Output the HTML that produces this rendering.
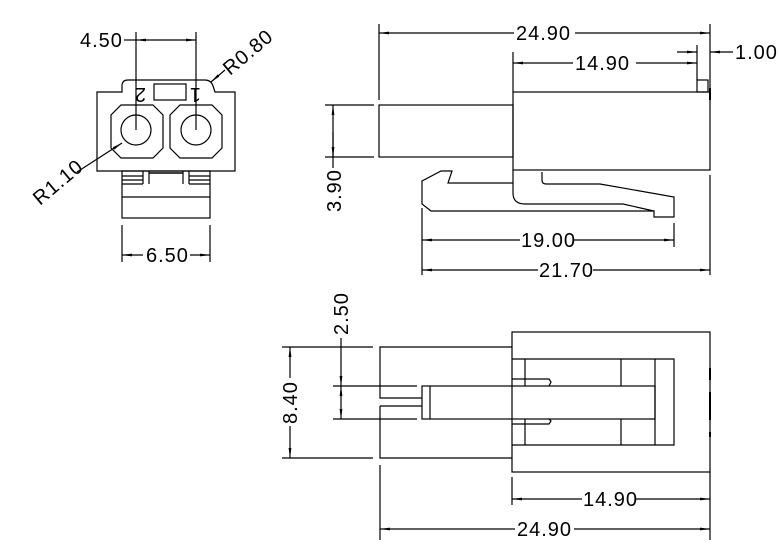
<!DOCTYPE html>
<html><head><meta charset="utf-8"><style>
html,body{margin:0;padding:0;background:#fff;}
svg{display:block;}
text{font-family:"Liberation Sans",sans-serif;font-size:20px;letter-spacing:1px;fill:#000;}
</style></head><body>
<svg width="779" height="548" viewBox="0 0 779 548" xmlns="http://www.w3.org/2000/svg">
<defs>
<marker id="a" viewBox="0 0 10 4" refX="10" refY="2" markerWidth="10" markerHeight="4" markerUnits="userSpaceOnUse" orient="auto-start-reverse">
<path d="M0,0.6 L10,2 L0,3.4 Z" fill="#000"/></marker>
</defs>
<g fill="none" stroke="#000" stroke-width="1.2">
<!-- LEFT VIEW -->
<path d="M97,92 H122 V86 Q122,80 128,80 H205 Q211,80 213,86 L215,92 H235 V171 H97 Z"/>
<rect x="154" y="84" width="32" height="16"/>
<path d="M121,105 H153 L163,115 V148 L153,158 H121 L111,148 V115 Z"/>
<path d="M180,105 H212 L222,115 V148 L212,158 H180 L170,148 V115 Z"/>
<circle cx="136" cy="130" r="15"/>
<circle cx="196" cy="130" r="15"/>
<line x1="136" y1="32" x2="136" y2="130"/>
<line x1="196" y1="32" x2="196" y2="130"/>
<line x1="136" y1="40" x2="196" y2="40" marker-start="url(#a)" marker-end="url(#a)"/>
<line x1="124" y1="40" x2="136" y2="40"/>
<line x1="77" y1="172" x2="122" y2="143" marker-end="url(#a)"/>
<line x1="225" y1="70" x2="211" y2="82" marker-end="url(#a)"/>
<rect x="122" y="171" width="88" height="47"/>
<line x1="122" y1="197" x2="210" y2="197"/>
<line x1="122" y1="176" x2="143" y2="176"/><line x1="122" y1="180" x2="143" y2="180"/><line x1="122" y1="184" x2="143" y2="184"/>
<line x1="189" y1="176" x2="210" y2="176"/><line x1="189" y1="180" x2="210" y2="180"/><line x1="189" y1="184" x2="210" y2="184"/>
<line x1="143" y1="171" x2="143" y2="184"/><line x1="149" y1="171" x2="149" y2="184"/>
<line x1="183" y1="171" x2="183" y2="184"/><line x1="189" y1="171" x2="189" y2="184"/>
<line x1="149" y1="173" x2="183" y2="173" stroke-width="1.6"/>
<line x1="122" y1="225" x2="122" y2="262"/><line x1="210" y1="225" x2="210" y2="262"/>
<line x1="122" y1="255" x2="143" y2="255" marker-start="url(#a)"/>
<line x1="190" y1="255" x2="210" y2="255" marker-end="url(#a)"/>

<!-- TOP RIGHT VIEW -->
<line x1="379" y1="24" x2="379" y2="100"/>
<line x1="710" y1="24" x2="710" y2="95"/>
<line x1="379" y1="33" x2="514" y2="33" marker-start="url(#a)"/>
<line x1="575" y1="33" x2="710" y2="33" marker-end="url(#a)"/>
<line x1="513" y1="52" x2="513" y2="92"/>
<line x1="697" y1="45" x2="697" y2="80"/>
<line x1="513" y1="63" x2="573" y2="63" marker-start="url(#a)"/>
<line x1="636" y1="63" x2="697" y2="63" marker-end="url(#a)"/>
<line x1="677" y1="52" x2="697" y2="52" marker-end="url(#a)"/>
<line x1="733" y1="52" x2="710" y2="52" marker-end="url(#a)"/>
<rect x="697" y="80" width="11" height="12"/>
<line x1="710" y1="88" x2="710" y2="100" stroke-width="2"/>
<rect x="513" y="92" width="197" height="78"/>
<rect x="379" y="105" width="134" height="52"/>
<line x1="325" y1="105" x2="374" y2="105"/><line x1="325" y1="157" x2="374" y2="157"/>
<line x1="333" y1="105" x2="333" y2="168" marker-start="url(#a)"/>
<line x1="333" y1="132" x2="333" y2="157" marker-end="url(#a)"/>
<path d="M513,183 H448 L452,171 H441 L422,181 V204 L431,211 H654 V217 H674 V197 L600,184 H546 Q542,184 542,180 V172"/>
<path d="M513,170 V193 Q513,204 525,204 H623 L654,211"/>
<line x1="422" y1="208" x2="422" y2="275"/>
<line x1="674" y1="223" x2="674" y2="247"/>
<line x1="710" y1="175" x2="710" y2="275"/>
<line x1="422" y1="240" x2="520" y2="240" marker-start="url(#a)"/>
<line x1="574" y1="240" x2="674" y2="240" marker-end="url(#a)"/>
<line x1="422" y1="270" x2="538" y2="270" marker-start="url(#a)"/>
<line x1="593" y1="270" x2="710" y2="270" marker-end="url(#a)"/>

<!-- BOTTOM VIEW -->
<rect x="512" y="332" width="198" height="140"/>
<path d="M512,347 H380 V398 H422 M380,406 V458 H512 M380,406 H422"/>
<rect x="422" y="386" width="233" height="33"/>
<line x1="430" y1="386" x2="430" y2="419"/>
<path d="M512,359 H674 V445 H512"/>
<line x1="525" y1="359" x2="525" y2="386"/><line x1="621" y1="359" x2="621" y2="386"/>
<line x1="525" y1="419" x2="525" y2="445"/><line x1="621" y1="419" x2="621" y2="445"/>
<line x1="655" y1="359" x2="655" y2="445"/>
<path d="M512,379 H549 L551,382 L549,386"/>
<path d="M512,424 H549 L551,421 L549,419"/>
<line x1="710" y1="368" x2="710" y2="380" stroke-width="2"/>
<line x1="710" y1="392" x2="710" y2="420" stroke-width="2"/>
<line x1="710" y1="432" x2="710" y2="437" stroke-width="2"/>
<line x1="282" y1="347" x2="373" y2="347"/><line x1="282" y1="458" x2="373" y2="458"/>
<line x1="290" y1="347" x2="290" y2="378" marker-start="url(#a)"/>
<line x1="290" y1="426" x2="290" y2="458" marker-end="url(#a)"/>
<line x1="333" y1="386" x2="417" y2="386"/><line x1="333" y1="419" x2="417" y2="419"/>
<line x1="341" y1="338" x2="341" y2="386" marker-end="url(#a)"/>
<line x1="341" y1="403" x2="341" y2="386" marker-end="url(#a)"/>
<line x1="341" y1="403" x2="341" y2="419" marker-end="url(#a)"/>
<line x1="512" y1="477" x2="512" y2="505"/>
<line x1="710" y1="472" x2="710" y2="540"/>
<line x1="380" y1="465" x2="380" y2="540"/>
<line x1="512" y1="499" x2="582" y2="499" marker-start="url(#a)"/>
<line x1="636" y1="499" x2="710" y2="499" marker-end="url(#a)"/>
<line x1="380" y1="529" x2="515" y2="529" marker-start="url(#a)"/>
<line x1="574" y1="529" x2="710" y2="529" marker-end="url(#a)"/>
</g>
<g>
<text x="80" y="47">4.50</text>
<text x="146" y="262">6.50</text>
<text x="0" y="0" transform="translate(230,76) rotate(-40)">R0.80</text>
<text x="0" y="0" transform="translate(40,206) rotate(-40)">R1.10</text>
<text x="0" y="0" transform="translate(146,88) scale(-1,-1)" font-size="16">2</text>
<text x="0" y="0" transform="translate(201,88) scale(-1,-1)" font-size="16">1</text>
<text x="516" y="40">24.90</text>
<text x="575" y="70">14.90</text>
<text x="735" y="59">1.00</text>
<text x="0" y="0" transform="translate(341,212) rotate(-90)">3.90</text>
<text x="521" y="247">19.00</text>
<text x="539" y="277">21.70</text>
<text x="0" y="0" transform="translate(297,424) rotate(-90)">8.40</text>
<text x="0" y="0" transform="translate(348,335) rotate(-90)">2.50</text>
<text x="583" y="506">14.90</text>
<text x="517" y="536">24.90</text>
</g>
</svg>
</body></html>
